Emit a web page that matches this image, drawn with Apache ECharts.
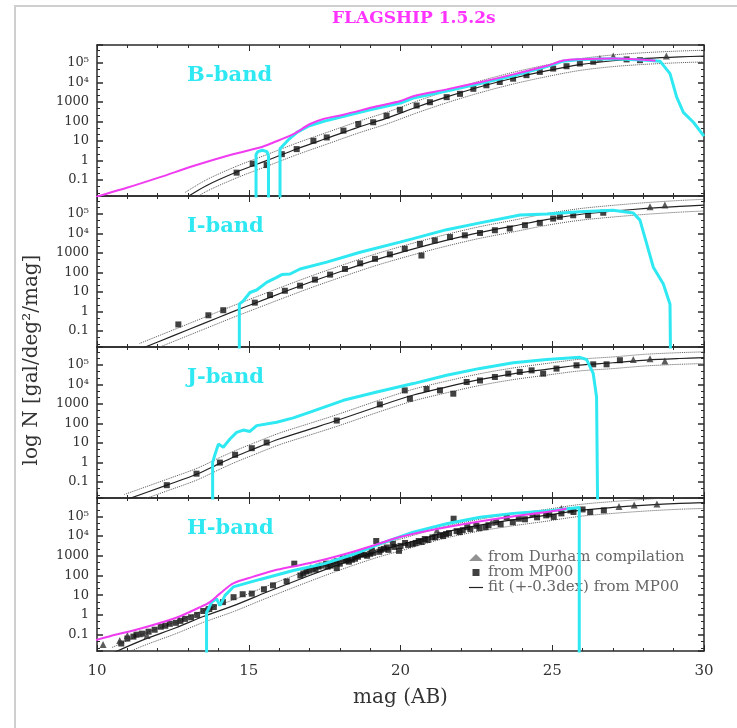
<!DOCTYPE html>
<html>
<head>
<meta charset="utf-8">
<title>FLAGSHIP 1.5.2s number counts</title>
<script src="https://cdn.jsdelivr.net/npm/echarts@6.0.0/dist/echarts.min.js"></script>
<style>
  html, body { margin: 0; padding: 0; background: #fff; }
  #chart { width: 737px; height: 728px; }
</style>
</head>
<body>
<div id="chart"></div>
<script>
// all points are [mag (AB), log N]
const bandNames = ['B-band', 'I-band', 'J-band', 'H-band']

// fit from MP00 (solid), dotted lines are +-0.3 dex around it
const bFit = [[12.9, -1.95], [13.6, -1.3], [14.6, -0.6], [15.6, 0.0], [16.6, 0.6], [17.6, 1.15], [18.6, 1.7], [19.6, 2.2], [20.5, 2.72], [21.5, 3.25], [22.6, 3.77], [23.7, 4.22], [24.8, 4.6], [25.9, 4.92], [27.0, 5.12], [28.1, 5.24], [29.2, 5.32], [30, 5.36]]
const iFit = [[11.4, -1.95], [12.5, -1.26], [13.5, -0.63], [14.5, 0.0], [15.2, 0.42], [16.2, 1.02], [17.2, 1.6], [18.2, 2.14], [19.2, 2.66], [20.4, 3.2], [21.5, 3.65], [22.6, 4.05], [23.7, 4.38], [24.8, 4.72], [25.9, 4.98], [27.0, 5.15], [28.1, 5.29], [29.2, 5.4], [30, 5.46]]
const jFit = [[10.9, -1.95], [12.3, -1.17], [13.3, -0.6], [14.05, -0.05], [14.55, 0.3], [15.1, 0.65], [16.0, 1.2], [17.0, 1.7], [17.9, 2.15], [19.3, 2.9], [20.4, 3.45], [21.5, 3.87], [22.6, 4.25], [23.7, 4.55], [24.8, 4.78], [25.9, 5.0], [27.0, 5.12], [28.1, 5.26], [29.2, 5.34], [30, 5.38]]
const hFit = [[10.5, -1.95], [11.5, -1.28], [12.6, -0.65], [13.5, -0.08], [14.5, 0.47], [15.6, 1.16], [17.0, 2.0], [18.1, 2.63], [19.2, 3.2], [20.0, 3.55], [21.5, 4.2], [22.6, 4.55], [23.7, 4.82], [24.8, 5.05], [25.9, 5.3], [27.0, 5.45], [28.1, 5.57], [29.2, 5.66], [30, 5.7]]

// observed counts, MP00 (squares)
const bMP00 = [[14.6, -0.63], [15.13, -0.17], [15.59, -0.24], [16.09, 0.32], [16.58, 0.58], [17.13, 1.01], [17.57, 1.18], [18.12, 1.53], [18.61, 1.87], [19.1, 1.96], [19.54, 2.3], [19.98, 2.6], [20.53, 2.82], [20.97, 2.99], [21.52, 3.25], [21.96, 3.42], [22.4, 3.68], [22.83, 3.86], [23.27, 4.03], [23.71, 4.2], [24.15, 4.38], [24.59, 4.55], [25.03, 4.72], [25.47, 4.84], [25.91, 4.98], [26.35, 5.07], [27.45, 5.19], [27.89, 5.15]]
const iMP00 = [[12.68, -0.67], [13.67, -0.2], [14.16, 0.06], [15.2, 0.45], [15.7, 0.84], [16.19, 1.06], [16.69, 1.32], [17.18, 1.63], [17.68, 1.89], [18.17, 2.18], [18.67, 2.47], [19.16, 2.7], [19.65, 2.93], [20.14, 3.22], [20.64, 3.47], [20.69, 2.87], [21.13, 3.65], [21.63, 3.82], [22.12, 3.91], [22.62, 4.03], [23.11, 4.17], [23.6, 4.26], [24.1, 4.43], [24.59, 4.55], [25.03, 4.77], [25.25, 4.86], [25.69, 4.94], [26.18, 4.94], [26.68, 5.07]]
const jMP00 = [[12.3, -1.17], [13.28, -0.58], [14.05, -0.01], [14.55, 0.39], [15.1, 0.73], [15.59, 1.02], [17.9, 2.15], [19.32, 2.98], [20.14, 3.7], [20.31, 3.27], [20.86, 3.77], [21.3, 3.7], [21.74, 3.53], [22.18, 4.13], [22.62, 4.21], [23.11, 4.39], [23.55, 4.56], [23.93, 4.65], [24.32, 4.73], [24.7, 4.56], [25.14, 4.82], [25.8, 4.99], [26.35, 5.04], [26.79, 5.04], [27.23, 5.25]]
const hMP00 = [[10.8, -1.45], [11.0, -1.2], [11.2, -1.1], [11.3, -1.0], [11.5, -0.95], [11.7, -0.85], [11.9, -0.75], [12.1, -0.6], [12.25, -0.55], [12.4, -0.45], [12.6, -0.4], [12.75, -0.3], [12.9, -0.2], [13.1, -0.12], [13.3, 0.0], [13.5, 0.2], [13.7, 0.3], [13.85, 0.4], [14.15, 0.65], [14.5, 0.9], [14.8, 1.05], [15.1, 1.08], [15.5, 1.3], [15.8, 1.5], [16.25, 1.7], [16.5, 2.6], [16.7, 2.0], [16.8, 2.1], [16.9, 2.2], [17.0, 2.25], [17.1, 2.35], [17.2, 2.3], [17.3, 2.45], [17.4, 2.5], [17.55, 2.6], [17.6, 2.45], [17.7, 2.5], [17.8, 2.65], [17.9, 2.72], [17.9, 2.38], [18.0, 2.6], [18.1, 2.85], [18.2, 2.75], [18.25, 2.9], [18.3, 2.7], [18.4, 2.8], [18.5, 2.85], [18.55, 3.0], [18.6, 2.95], [18.7, 3.1], [18.8, 3.05], [18.9, 3.0], [19.0, 3.1], [19.05, 3.25], [19.1, 3.15], [19.2, 3.75], [19.3, 3.2], [19.35, 3.3], [19.45, 3.35], [19.55, 3.42], [19.6, 3.3], [19.75, 3.6], [19.8, 3.45], [19.95, 3.25], [20.0, 3.5], [20.15, 3.65], [20.25, 3.55], [20.4, 3.6], [20.5, 3.65], [20.6, 3.75], [20.7, 3.7], [20.8, 3.85], [20.9, 3.8], [21.05, 3.93], [21.15, 3.95], [21.3, 4.05], [21.4, 4.0], [21.5, 4.1], [21.6, 4.15], [21.75, 4.88], [21.85, 4.25], [21.95, 4.2], [22.05, 4.3], [22.2, 4.45], [22.3, 4.35], [22.5, 4.52], [22.6, 4.4], [22.8, 4.45], [22.9, 4.55], [23.15, 4.7], [23.3, 4.6], [23.5, 4.95], [23.7, 4.7], [23.9, 4.88], [24.1, 4.85], [24.35, 5.12], [24.5, 4.95], [24.8, 5.05], [24.9, 5.1], [25.05, 4.97], [25.3, 5.15], [25.6, 5.3], [25.7, 5.22], [26.0, 5.35], [26.25, 5.22], [26.7, 5.3]]

// Durham compilation (triangles)
const bDurham = [[26.57, 5.24], [27.01, 5.36], [28.76, 5.36]]
const iDurham = [[28.22, 5.38], [28.71, 5.47]]
const jDurham = [[27.67, 5.29], [28.22, 5.33], [28.71, 5.21]]
const hDurham = [[10.2, -1.5], [10.75, -1.3], [11.0, -1.05], [11.4, -0.95], [11.65, -1.05], [12.7, -0.25], [13.6, 0.3], [17.05, 2.4], [19.1, 3.35], [21.2, 4.3], [23.0, 4.7], [25.3, 5.4], [27.2, 5.5], [27.7, 5.57], [28.45, 5.62]]

// Flagship 1.5.2s (cyan), segments go down past the bottom of the panel
const bFlagship = [
  [[15.24, -3], [15.24, 0.3], [15.3, 0.45], [15.45, 0.52], [15.6, 0.45], [15.65, 0.25], [15.65, -3]],
  [[16.03, -3], [16.03, 0.6], [16.3, 1.05], [16.6, 1.45], [17.0, 1.78], [17.5, 2.02], [18.0, 2.22], [19.0, 2.6], [20.0, 2.95], [20.42, 3.2], [21.52, 3.56], [22.62, 3.95], [23.72, 4.35], [24.82, 4.82], [25.36, 5.1], [25.91, 5.18], [27.0, 5.22], [28.11, 5.15], [28.55, 5.1], [28.88, 4.46], [29.1, 3.25], [29.32, 2.47], [29.65, 1.96], [30.0, 1.25]]
]
const iFlagship = [
  [[14.69, -3], [14.69, 0.37], [14.82, 0.54], [15.04, 0.97], [15.26, 1.1], [15.59, 1.49], [15.92, 1.75], [16.09, 1.89], [16.36, 1.92], [16.69, 2.18], [17.57, 2.53], [18.67, 3.04], [19.98, 3.56], [20.42, 3.74], [21.52, 4.2], [22.62, 4.55], [23.94, 4.95], [24.82, 5.0], [25.91, 5.12], [27.0, 5.2], [27.67, 5.06], [27.89, 4.69], [28.11, 3.48], [28.33, 2.27], [28.66, 1.41], [28.88, 0.37], [28.9, -3]]
]
const jFlagship = [
  [[13.81, -3], [13.81, 0.0], [13.89, 0.42], [14.0, 0.94], [14.05, 1.02], [14.16, 0.78], [14.38, 1.2], [14.6, 1.54], [14.82, 1.66], [15.04, 1.59], [15.26, 1.89], [15.92, 2.06], [16.47, 2.29], [17.02, 2.58], [18.12, 3.19], [19.22, 3.62], [20.42, 4.05], [21.52, 4.48], [22.62, 4.83], [23.72, 5.12], [24.82, 5.29], [25.91, 5.4], [26.13, 5.29], [26.35, 4.57], [26.46, 3.36], [26.5, -3]]
]
const hFlagship = [
  [[13.61, -3], [13.61, 0.13], [13.67, 0.3], [13.78, 0.65], [13.94, 0.82], [14.05, 0.47], [14.22, 0.99], [14.49, 1.42], [15.37, 1.8], [16.47, 2.25], [17.5, 2.6], [18.5, 3.1], [19.32, 3.6], [20.42, 4.2], [21.52, 4.62], [22.62, 4.95], [23.72, 5.15], [25.0, 5.3], [25.5, 5.38], [25.89, 5.45], [25.89, -3]]
]

// second model (magenta), only in B and H
const bMagenta = [[9.9, -1.9], [10.04, -1.84], [10.98, -1.41], [12.08, -0.86], [13.17, -0.29], [14.27, 0.23], [15.37, 0.66], [15.81, 0.92], [16.47, 1.35], [17.02, 1.87], [17.46, 2.13], [18.12, 2.35], [19.22, 2.78], [20.0, 3.05], [20.42, 3.3], [21.52, 3.65], [22.62, 4.02], [23.72, 4.42], [24.82, 4.86], [25.36, 5.13], [25.91, 5.2], [27.0, 5.24], [28.1, 5.16], [28.4, 5.12]]
const hMagenta = [[9.9, -1.3], [10.43, -1.08], [11.53, -0.65], [12.63, -0.13], [13.39, 0.39], [13.72, 0.65], [14.05, 1.08], [14.49, 1.6], [15.15, 1.94], [15.92, 2.29], [17.02, 2.63], [18.12, 3.06], [19.22, 3.58], [19.98, 3.95], [21.19, 4.36], [23.17, 4.88], [25.03, 5.27], [25.47, 5.4]]

const fits = [bFit, iFit, jFit, hFit]
const mp00 = [bMP00, iMP00, jMP00, hMP00]
const durham = [bDurham, iDurham, jDurham, hDurham]
const flagship = [bFlagship, iFlagship, jFlagship, hFlagship]
const magenta = [bMagenta, null, null, hMagenta]

const panelTop = [45, 196, 347, 498]
const panelHeight = [151, 151, 151, 153]
const LOG_MIN = -1.83
const LOG_MAX = 5.93

const CYAN = '#2ee8f2'
const MAGENTA = '#f03cf0'
const AXIS = '#2a2a2a'
const FONT = 'DejaVu Serif'

const sup = { 4: '\u2074', 5: '\u2075', 6: '\u2076' }
function yLabel (v) {
  const k = Math.round(v)
  if (Math.abs(v - k) > 1e-6) return ''
  if (k >= 4) return '10' + sup[k]
  if (k >= 0) return String(Math.pow(10, k))
  return '0.' + '0'.repeat(-k - 1) + '1'
}

const chart = echarts.init(document.getElementById('chart'))

const grid = []
const xAxis = []
const yAxis = []
const series = []

for (let i = 0; i < 4; i++) {
  grid.push({ left: 97, right: 33, top: panelTop[i], height: panelHeight[i] })
  const last = i === 3
  const xCommon = {
    type: 'value',
    gridIndex: i,
    min: 10,
    max: 30,
    interval: 5,
    axisLine: { show: true, onZero: false, lineStyle: { color: AXIS, width: 1.5 } },
    axisTick: { show: true, inside: true, length: 6, lineStyle: { color: AXIS, width: 1 } },
    minorTick: { show: true, splitNumber: 5, length: 3, lineStyle: { color: AXIS, width: 1 } },
    splitLine: { show: false }
  }
  xAxis.push(Object.assign({}, xCommon, {
    position: 'bottom',
    axisLabel: { show: last, margin: 13, color: '#333', fontFamily: FONT, fontSize: 15 },
    name: last ? 'mag (AB)' : '',
    nameLocation: 'middle',
    nameGap: 37,
    nameTextStyle: { color: '#333', fontFamily: FONT, fontSize: 20 }
  }))
  xAxis.push(Object.assign({}, xCommon, { position: 'top', axisLabel: { show: false } }))

  const yCommon = {
    type: 'value',
    gridIndex: i,
    min: LOG_MIN,
    max: LOG_MAX,
    splitNumber: 8,
    axisLine: { show: true, lineStyle: { color: AXIS, width: 1.5 } },
    axisTick: { show: true, inside: true, length: 6, lineStyle: { color: AXIS, width: 1.5 } },
    minorTick: { show: true, splitNumber: 3, length: 3, lineStyle: { color: AXIS, width: 1 } },
    splitLine: { show: false }
  }
  yAxis.push(Object.assign({}, yCommon, {
    position: 'left',
    axisLabel: {
      show: true,
      margin: 8,
      showMinLabel: false,
      showMaxLabel: false,
      color: '#333',
      fontFamily: FONT,
      fontSize: 13,
      formatter: yLabel
    }
  }))
  yAxis.push(Object.assign({}, yCommon, { position: 'right', axisLabel: { show: false } }))

  const xi = i * 2
  const yi = i * 2
  const fit = fits[i]

  series.push({
    type: 'line', xAxisIndex: xi, yAxisIndex: yi, symbol: 'none', silent: true, smooth: 0.3,
    data: fit.map(p => [p[0], p[1] + 0.3]),
    lineStyle: { color: '#555', width: 1, type: 'dotted' }, z: 2
  })
  series.push({
    type: 'line', xAxisIndex: xi, yAxisIndex: yi, symbol: 'none', silent: true, smooth: 0.3,
    data: fit.map(p => [p[0], p[1] - 0.3]),
    lineStyle: { color: '#555', width: 1, type: 'dotted' }, z: 2
  })
  series.push({
    name: 'fit (+-0.3dex) from MP00',
    type: 'line', xAxisIndex: xi, yAxisIndex: yi, symbol: 'none', smooth: 0.3,
    data: fit,
    itemStyle: { color: '#222' },
    lineStyle: { color: '#222', width: 1.2 }, z: 3
  })
  series.push({
    name: 'from MP00',
    type: 'scatter', xAxisIndex: xi, yAxisIndex: yi,
    symbol: 'rect', symbolSize: 6,
    data: mp00[i],
    itemStyle: { color: '#111' }, z: 4
  })
  series.push({
    name: 'from Durham compilation',
    type: 'scatter', xAxisIndex: xi, yAxisIndex: yi,
    symbol: 'triangle', symbolSize: 7,
    data: durham[i],
    itemStyle: { color: '#333' }, z: 4
  })
  flagship[i].forEach(seg => {
    series.push({
      name: 'Flagship',
      type: 'line', xAxisIndex: xi, yAxisIndex: yi, symbol: 'none',
      data: seg,
      lineStyle: { color: CYAN, width: 3 }, z: 5
    })
  })
  if (magenta[i]) {
    series.push({
      name: 'model',
      type: 'line', xAxisIndex: xi, yAxisIndex: yi, symbol: 'none', smooth: 0.3,
      data: magenta[i],
      lineStyle: { color: MAGENTA, width: 2 }, z: 6
    })
  }
}

const graphic = [
  { type: 'rect', shape: { x: 15, y: 6, width: 760, height: 760 }, style: { fill: 'none', stroke: '#cfcfcf', lineWidth: 2 }, silent: true },
  {
    type: 'text', x: 32, y: 360, rotation: Math.PI / 2,
    style: { text: 'log N [gal/deg\u00b2/mag]', textAlign: 'center', textVerticalAlign: 'middle', fill: '#333', font: '20px "DejaVu Serif"' }
  }
]
bandNames.forEach((b, i) => {
  graphic.push({
    type: 'text', x: 187, y: panelTop[i] + 31,
    style: { text: b, textVerticalAlign: 'middle', fill: CYAN, font: 'bold 21px "DejaVu Serif"' }
  })
})

chart.setOption({
  backgroundColor: '#fff',
  animation: false,
  title: {
    text: 'FLAGSHIP 1.5.2s',
    left: 327,
    top: 5,
    textStyle: { color: '#ff33ff', fontFamily: FONT, fontSize: 17, fontWeight: 'bold' }
  },
  legend: {
    data: [
      { name: 'from Durham compilation', icon: 'triangle', itemStyle: { color: '#777' } },
      { name: 'from MP00', icon: 'path://M4,1 L10,1 L10,7 L4,7 Z' },
      { name: 'fit (+-0.3dex) from MP00', icon: 'path://M0,0 L14,0 L14,1.2 L0,1.2 Z' }
    ],
    orient: 'vertical',
    left: 464,
    top: 545,
    itemGap: 0,
    itemWidth: 14,
    itemHeight: 7,
    selectedMode: false,
    textStyle: { color: '#666', fontFamily: FONT, fontSize: 15 }
  },
  grid: grid,
  xAxis: xAxis,
  yAxis: yAxis,
  graphic: graphic,
  series: series
})
</script>
</body>
</html>
